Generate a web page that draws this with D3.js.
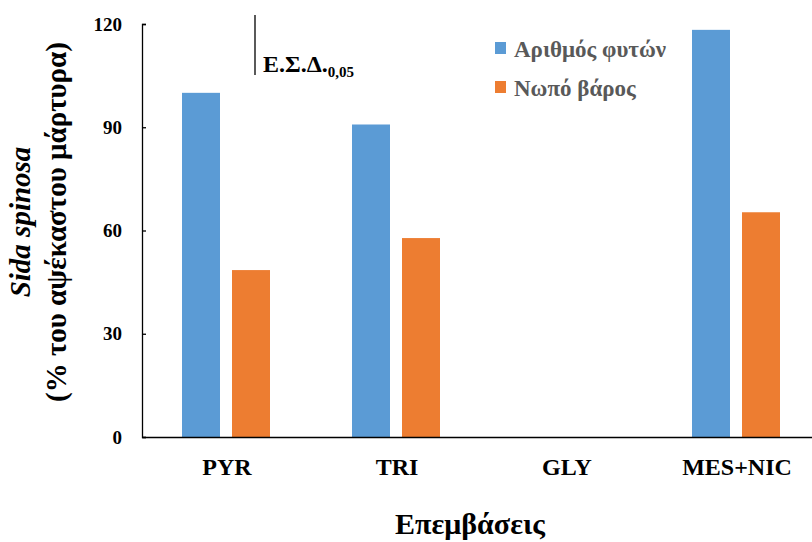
<!DOCTYPE html>
<html>
<head>
<meta charset="utf-8">
<script src="https://cdn.jsdelivr.net/npm/d3@7"></script>
<style>
  body { margin: 0; background: #fff; }
</style>
</head>
<body>
<script>
// Δεδομένα
var categories = ["PYR", "TRI", "GLY", "MES+NIC"];
var seriesNames = ["Αριθμός φυτών", "Νωπό βάρος"];
var arithmos = [100, 90.8, 0, 118.3];
var nopo = [48.5, 57.8, 0, 65.3];
var yTicks = [0, 30, 60, 90, 120];
var lsd = 17.4; // Ε.Σ.Δ. 0,05

var colors = ["#5B9BD5", "#ED7D31"];
var serif = "Liberation Serif";

var width = 812, height = 542;
var svg = d3.select("body").append("svg")
  .attr("width", width)
  .attr("height", height);

// Scales
var y = d3.scaleLinear().domain([0, 120]).range([437, 24]);
var x = d3.scaleBand().domain(categories).range([142, 822]).padding(0);
var xs = d3.scaleBand().domain([0, 1]).range([40, 128]).paddingInner(0.24);

// Bars
var data = categories.map(function (c, i) {
  return { cat: c, vals: [arithmos[i], nopo[i]] };
});

var groups = svg.selectAll("g.grp").data(data).enter().append("g")
  .attr("transform", function (d) { return "translate(" + x(d.cat) + ",0)"; });

groups.selectAll("rect").data(function (d) { return d.vals; }).enter().append("rect")
  .attr("x", function (d, i) { return xs(i); })
  .attr("width", xs.bandwidth())
  .attr("y", function (d) { return y(d); })
  .attr("height", function (d) { return y(0) - y(d); })
  .attr("fill", function (d, i) { return colors[i]; });

// Y axis (ticks inside)
var yAxis = svg.append("g")
  .attr("transform", "translate(142,0)")
  .call(d3.axisRight(y).tickValues(yTicks).tickSize(4).tickFormat(d3.format("d")));
yAxis.select(".domain").attr("stroke", "#000").attr("stroke-width", 1.3);
yAxis.selectAll(".tick line").attr("stroke", "#000").attr("stroke-width", 1.3);
yAxis.selectAll(".tick text")
  .attr("x", -20)
  .attr("text-anchor", "end")
  .attr("font-size", 19)
  .attr("fill", "#000");

// X axis
var xAxis = svg.append("g")
  .attr("transform", "translate(0,437)")
  .call(d3.axisBottom(x).tickSize(0));
xAxis.select(".domain").attr("stroke", "#000").attr("stroke-width", 1.5);
xAxis.selectAll(".tick text")
  .attr("dy", 0)
  .attr("y", 38)
  .attr("font-size", 24)
  .attr("fill", "#000");

// Axis titles
svg.append("text")
  .attr("x", 470).attr("y", 534)
  .attr("text-anchor", "middle")
  .attr("font-size", 30)
  .text("Επεμβάσεις");

var yt = svg.append("g").attr("transform", "translate(0,222) rotate(-90)");
yt.append("text")
  .attr("x", 0).attr("y", 30)
  .attr("text-anchor", "middle")
  .attr("font-size", 29)
  .attr("font-style", "italic")
  .text("Sida spinosa");
yt.append("text")
  .attr("x", 0).attr("y", 66)
  .attr("text-anchor", "middle")
  .attr("font-size", 29)
  .text("(% του αψέκαστου μάρτυρα)");

// LSD bar
svg.append("line")
  .attr("x1", 255).attr("x2", 255)
  .attr("y1", y(120 + 2.6)).attr("y2", y(120 + 2.6 - lsd))
  .attr("stroke", "#000").attr("stroke-width", 1.3);
var lsdText = svg.append("text")
  .attr("x", 263).attr("y", 72)
  .attr("font-size", 24);
lsdText.append("tspan").text("Ε.Σ.Δ.");
lsdText.append("tspan").attr("font-size", 15).attr("dy", 5).text("0,05");

// Legend
var legend = svg.selectAll("g.leg").data(seriesNames).enter().append("g")
  .attr("transform", function (d, i) { return "translate(495," + (42 + i * 39) + ")"; });
legend.append("rect")
  .attr("width", 11).attr("height", 12)
  .attr("fill", function (d, i) { return colors[i]; });
legend.append("text")
  .attr("x", 19).attr("y", 15)
  .attr("font-size", 23)
  .attr("fill", "#595959")
  .text(function (d) { return d; });

// same font everywhere
svg.selectAll("text")
  .attr("font-family", serif)
  .attr("font-weight", "bold");
</script>
</body>
</html>
